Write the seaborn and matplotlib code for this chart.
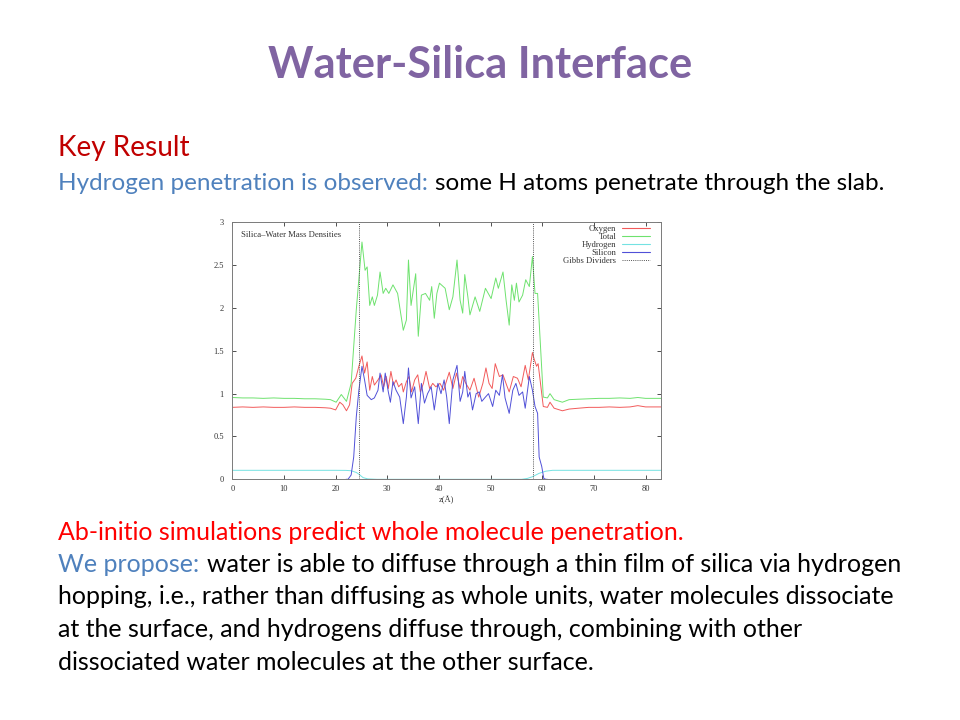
import pandas as pd
import seaborn as sns
import matplotlib.pyplot as plt
from matplotlib.lines import Line2D

# density profiles (z in Angstrom, mass density)
oxygen_z = [0, 2, 4, 6, 8, 10, 12, 14, 16, 18, 19, 20, 20.8, 21.4, 22.1, 22.7, 23.2, 23.9, 24.5, 25.1,
            25.6, 26.1, 26.6, 27.1, 27.5, 28.2, 28.8, 29.3, 29.8, 30.2, 30.7, 31.2, 31.7, 32.2, 32.8, 33.1,
            33.7, 34.2, 34.7, 35.3, 35.9, 36.4, 37, 37.5, 38.2, 38.8, 39.4, 40.2, 40.9, 42, 42.7, 43.4,
            44.1, 44.6, 45.2, 46, 46.8, 47.7, 48.5, 49.1, 49.7, 50.3, 50.9, 51.7, 52.4, 53.1, 53.6, 54.4,
            55.2, 55.9, 56.7, 57.3, 58.1, 58.4, 58.9, 59.2, 59.7, 60.2, 61, 61.5, 62.3, 63.9, 65.2, 67,
            69, 71, 73, 75, 77, 78.5, 80, 82, 83]
oxygen_rho = [0.84, 0.845, 0.84, 0.845, 0.84, 0.84, 0.845, 0.84, 0.84, 0.835, 0.83, 0.81, 0.90, 0.87,
              0.80, 0.87, 1.12, 1.18, 1.32, 1.44, 1.24, 1.37, 1.04, 1.20, 1.10, 1.16, 1.22, 1.08, 1.20,
              1.06, 1.26, 1.10, 1.16, 1.08, 1.12, 1.02, 1.14, 1.20, 1.02, 1.16, 1.22, 1.02, 1.12, 1.26,
              1.06, 1.12, 1.08, 1.12, 1.04, 1.25, 1.06, 1.24, 1.06, 1.20, 1.12, 1.04, 1.18, 0.96, 1.12,
              1.30, 1.12, 1.06, 1.35, 1.20, 1.22, 1.10, 1.02, 1.20, 1.18, 1.08, 1.33, 1.16, 1.48, 1.41,
              1.32, 1.35, 1.10, 0.85, 0.84, 0.90, 0.83, 0.80, 0.82, 0.83, 0.84, 0.84, 0.845, 0.84, 0.845,
              0.86, 0.845, 0.845, 0.845]

total_z = [0, 2, 4, 6, 8, 10, 12, 14, 16, 18, 19, 20.1, 21.1, 22.1, 23, 24, 25.1, 25.7, 26.1, 26.6,
           27.1, 27.5, 28.1, 28.6, 29.2, 29.7, 30.3, 31.1, 32, 33.1, 33.7, 34.1, 34.6, 35.5, 36, 36.6,
           37.4, 38.2, 38.6, 39.1, 39.6, 40.1, 41.2, 42, 42.7, 43.5, 44.1, 44.6, 45, 45.6, 46, 47, 47.9,
           49, 50.1, 51, 51.5, 52.4, 53, 53.6, 54.1, 54.6, 55, 55.5, 56.2, 56.8, 57.5, 58.1, 58.6, 59.1,
           59.7, 60.2, 61, 61.5, 62.3, 63.9, 65.2, 67, 69, 71, 73, 75, 77, 78.5, 80, 82, 83]
total_rho = [0.955, 0.95, 0.95, 0.945, 0.95, 0.945, 0.945, 0.94, 0.94, 0.935, 0.93, 0.90, 0.99, 0.91,
             1.12, 1.98, 2.77, 2.44, 2.48, 2.03, 2.13, 2.03, 2.15, 2.42, 2.17, 2.23, 2.17, 2.27, 2.17,
             1.74, 1.86, 2.56, 2.03, 2.40, 1.67, 2.15, 2.17, 2.09, 2.25, 1.88, 2.17, 2.29, 2.23, 1.98,
             2.13, 2.56, 2.09, 1.94, 2.39, 2.13, 1.92, 2.13, 1.96, 2.23, 2.11, 2.35, 2.23, 2.42, 2.09,
             1.80, 2.27, 2.09, 2.29, 2.07, 2.15, 2.33, 2.25, 2.60, 2.17, 2.17, 1.51, 0.96, 0.95, 1.00,
             0.93, 0.90, 0.93, 0.935, 0.94, 0.945, 0.945, 0.95, 0.945, 0.955, 0.945, 0.945, 0.945]

hydrogen_z = [0, 10, 20, 22, 23, 24, 24.5, 25.3, 26.2, 28, 40, 56, 57.1, 58.1, 59.4, 60.7, 62, 70, 83]
hydrogen_rho = [0.105, 0.105, 0.105, 0.104, 0.10, 0.08, 0.06, 0.02, 0.005, 0.0, 0.0, 0.0, 0.01, 0.03,
                0.07, 0.095, 0.105, 0.105, 0.105]

silicon_z = [22, 22.4, 23, 23.5, 24, 24.5, 25.1, 25.6, 26.1, 26.9, 27.5, 28.2, 28.6, 29.2, 29.6, 30.2,
             30.6, 31.1, 31.7, 32.4, 33.1, 33.7, 34.1, 34.6, 35.3, 36, 36.6, 37.2, 37.8, 38.5, 39.1,
             39.8, 40.4, 41, 41.5, 42, 42.7, 43.5, 44.1, 44.6, 45, 45.6, 46, 46.5, 47.2, 47.8, 48.3, 49,
             49.6, 50.4, 51, 51.7, 52.3, 52.8, 53.6, 54.3, 54.9, 55.5, 56.2, 56.7, 57.5, 58.1, 58.6,
             59.1, 59.4, 59.9, 60.3, 60.7, 61]
silicon_rho = [0.0, 0.0, 0.05, 0.26, 0.73, 1.04, 1.32, 1.16, 0.98, 0.93, 0.95, 1.04, 1.24, 1.02, 1.24,
               1.02, 0.90, 1.14, 1.04, 0.96, 0.65, 0.96, 1.30, 0.95, 1.08, 0.65, 1.12, 0.89, 1.00, 1.08,
               0.81, 1.12, 1.00, 1.16, 0.96, 0.65, 1.16, 1.33, 0.91, 1.02, 1.26, 0.96, 1.02, 0.81, 1.00,
               1.02, 0.91, 0.96, 1.00, 0.85, 1.04, 0.98, 1.22, 0.95, 0.77, 1.04, 1.12, 0.98, 1.02, 0.83,
               1.20, 1.04, 0.85, 0.77, 0.26, 0.15, 0.01, 0.0, 0.0]

gibbs_z = [24.5, 58.3]

species = ['Oxygen', 'Total', 'Hydrogen', 'Silicon']
colors = ['#f25a5a', '#6ee26e', '#74e2e2', '#5050d8']
x_ticks = [0, 10, 20, 30, 40, 50, 60, 70, 80]
y_ticks = [0, 0.5, 1, 1.5, 2, 2.5, 3]
y_tick_labels = ['0', '0.5', '1', '1.5', '2', '2.5', '3']

slide_title = 'Water-Silica Interface'
key_result = 'Key Result'
h_lead = 'Hydrogen penetration is observed:'
h_rest = 'some H atoms penetrate through the slab.'
ab_initio = 'Ab-initio simulations predict whole molecule penetration.'
we_lead = 'We propose:'
body_lines = ['water is able to diffuse through a thin film of silica via hydrogen',
              'hopping, i.e., rather than diffusing as whole units, water molecules dissociate',
              'at the surface, and hydrogens diffuse through, combining with other',
              'dissociated water molecules at the other surface.']

SLIDE_FONT = ['Lato', 'DejaVu Sans']
PLOT_FONT = ['Liberation Serif', 'DejaVu Serif']
W, H = 960, 720


def main():
    frames = [pd.DataFrame({'z': oxygen_z, 'rho': oxygen_rho, 'species': 'Oxygen'}),
              pd.DataFrame({'z': total_z, 'rho': total_rho, 'species': 'Total'}),
              pd.DataFrame({'z': hydrogen_z, 'rho': hydrogen_rho, 'species': 'Hydrogen'}),
              pd.DataFrame({'z': silicon_z, 'rho': silicon_rho, 'species': 'Silicon'})]
    df = pd.concat(frames, ignore_index=True)

    sns.set_style('ticks', {'xtick.direction': 'in', 'ytick.direction': 'in',
                            'axes.edgecolor': '#7a7a7a'})
    plt.rcParams['font.family'] = PLOT_FONT

    fig = plt.figure(figsize=(W / 100, H / 100), dpi=100)
    fig.patch.set_facecolor('white')

    ## density chart
    ax = fig.add_axes([0.242, 0.3343, 0.4466, 0.3569])
    sns.lineplot(data=df, x='z', y='rho', hue='species', hue_order=species, palette=colors,
                 estimator=None, sort=False, lw=0.7, legend=False, ax=ax)
    for z in gibbs_z:
        ax.axvline(z, color='#555555', ls=(0, (1, 1.2)), lw=0.7)

    ax.set_xlim(0, 83)
    ax.set_ylim(0, 3)
    ax.set_xticks(x_ticks)
    ax.set_yticks(y_ticks)
    ax.set_yticklabels(y_tick_labels)
    ax.tick_params(top=True, right=True, length=3, width=0.6, labelsize=6, colors='#333333')
    ax.tick_params(axis='y', pad=6)
    ax.tick_params(axis='x', pad=4)
    for s in ax.spines.values():
        s.set_linewidth(0.7)
    ax.set_xlabel('z(Å)', fontsize=6, labelpad=2, color='#333333')
    ax.set_ylabel('')
    ax.text(0.0196, 0.951, 'Silica–Water Mass Densities', transform=ax.transAxes,
            fontsize=6.2, va='center', ha='left', color='#333333')

    handles = [Line2D([], [], color=c, lw=0.8) for c in colors]
    handles.append(Line2D([], [], color='#555555', ls=(0, (1, 1.2)), lw=0.7))
    ax.legend(handles, species + ['Gibbs Dividers'], loc='upper right',
              bbox_to_anchor=(0.974, 0.99), frameon=False, markerfirst=False,
              fontsize=6.2, handlelength=3.2, handletextpad=0.7, labelspacing=0.0,
              borderpad=0, borderaxespad=0, labelcolor='#333333')

    ## slide text
    r = fig.canvas.get_renderer()

    def width(s, size, weight='normal'):
        t = fig.text(0, 0, s, fontsize=size, family=SLIDE_FONT, fontweight=weight)
        w = t.get_window_extent(r).width
        t.remove()
        return w

    def fit(s, target, weight='normal'):
        return 20 * target / width(s, 20, weight)

    def put(x, y, s, size, color, weight='normal', ha='left'):
        fig.text(x / W, 1 - y / H, s, fontsize=size, color=color, family=SLIDE_FONT,
                 fontweight=weight, ha=ha, va='baseline')

    def put_pair(x, y, lead, rest, size, lead_color):
        put(x, y, lead, size, lead_color)
        gap = 0.3 * size * 100 / 72
        put(x + width(lead, size) + gap, y, rest, size, 'black')

    size = fit(slide_title, 424, 'bold')
    put(480, 78, slide_title, size, '#8064A2', 'bold', 'center')

    size = fit(key_result, 132)
    put(58, 156, key_result, size, '#C00000')

    size = fit(h_lead + ' ' + h_rest, 828)
    put_pair(58, 190, h_lead, h_rest, size, '#4F81BD')

    size = fit(we_lead + ' ' + body_lines[0], 845)
    put(58, 540, ab_initio, size, '#FF0000')
    put_pair(58, 572, we_lead, body_lines[0], size, '#4F81BD')
    for i, line in enumerate(body_lines[1:]):
        put(58, 604 + 33 * i, line, size, 'black')

    plt.savefig('out.png', dpi=100, facecolor='white')


main()
